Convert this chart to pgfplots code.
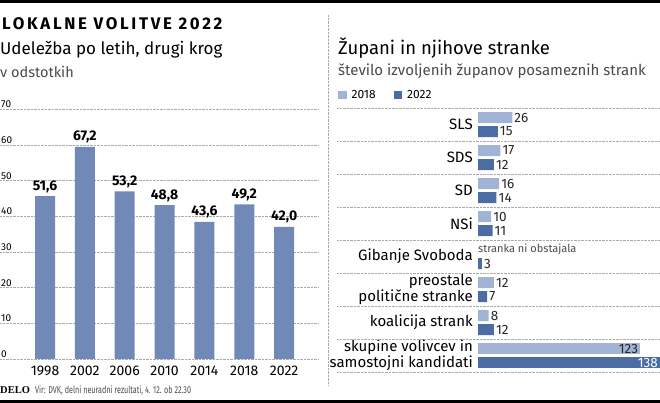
\documentclass[border=0pt]{standalone}
\usepackage{fontspec}
\setmainfont{Fira Sans}
\newfontfamily\titlefont[LetterSpace=16]{Fira Sans}
\newfontfamily\delofont{Liberation Serif}
\usepackage{pgfplots}
\usepackage{pgfplotstable}
\pgfplotsset{compat=1.18}

\definecolor{barblue}{HTML}{7089B6}
\definecolor{lightblue}{HTML}{A2B4D6}
\definecolor{darkblue}{HTML}{4B6DA4}
\definecolor{gridgray}{HTML}{AAAAAA}
\definecolor{txtgray}{HTML}{4A4A4A}
\newcommand{\fs}[1]{\fontsize{#1}{#1}\selectfont}

% bar heights as drawn in the source graphic, lab = printed value
\pgfplotstableread{
i h lab
0 45.6 51.6
1 59.4 67.2
2 46.9 53.2
3 43.1 48.8
4 38.4 43.6
5 43.3 49.2
6 37.0 42.0
}\turnout

\pgfplotstableread{
i y18 y22
0 26 15
1 17 12
2 16 14
3 10 11
4 nan 3
5 12 7
6 8 12
}\mayors

\begin{document}
\begin{tikzpicture}
\path[use as bounding box] (0pt,0pt) rectangle (660pt,403pt);
\fill[black] (0pt,399.5pt) rectangle (660pt,403pt);
\fill[black] (0pt,0pt) rectangle (660pt,3pt);
\draw[gridgray, densely dotted] (328pt,18pt) -- (328pt,388pt);

\node[anchor=base west, inner sep=0pt, font=\titlefont\bfseries\fs{16.8}] at (2pt,373.7pt) {LOKALNE VOLITVE 2022};
\node[anchor=base west, inner sep=0pt, font=\fs{17}] at (0pt,348pt) {Udeležba po letih, drugi krog};
\node[anchor=base west, inner sep=0pt, font=\fs{14.5}, text=txtgray] at (0pt,325.7pt) {v odstotkih};
\node[anchor=base west, inner sep=0pt, font=\fs{18.5}] at (338pt,348.7pt) {Župani in njihove stranke};
\node[anchor=base west, inner sep=0pt, font=\fs{15}, text=txtgray] at (338pt,327pt) {število izvoljenih županov posameznih strank};
\node[anchor=base west, inner sep=0pt, font=\delofont\bfseries\fs{10.5}] at (0pt,9pt) {DELO};
\node[anchor=base west, inner sep=0pt, font=\fs{10}, text=txtgray] at (35pt,9pt) {\scalebox{0.72}[1]{Vir: DVK, delni neuradni rezultati, 4. 12. ob 22.30}};

\begin{axis}[
    at={(0pt,44pt)}, anchor=south west,
    scale only axis, width=318pt, height=250pt,
    xmin=-1.13, xmax=6.85, ymin=0, ymax=70,
    ybar, bar width=20pt,
    xtick={0,...,6},
    xticklabels={1998,2002,2006,2010,2014,2018,2022},
    ytick={0,10,...,70},
    axis line style={draw=none},
    major tick length=0pt,
    ymajorgrids=true,
    grid style={gridgray, densely dotted},
    /pgf/number format/assume math mode=true,
    yticklabel style={anchor=south west, inner sep=1pt, font=\fs{10}},
    xticklabel style={font=\fs{14}, anchor=base, yshift=-17pt, inner sep=0pt},
    nodes near coords,
    every node near coord/.append style={font=\bfseries\fs{14}, anchor=base, yshift=6pt, inner sep=0pt,
        /pgf/number format/.cd, fixed, fixed zerofill, precision=1, use comma},
]
\addplot[fill=barblue, draw=none, point meta=explicit] table[x=i, y=h, meta=lab] {\turnout};
\end{axis}

\begin{axis}[
    at={(337pt,31pt)}, anchor=south west,
    scale only axis, width=323pt, height=264pt,
    xmin=-106.9, xmax=138, ymin=-0.5, ymax=7.5,
    y dir=reverse,
    xbar, bar width=11pt,
    xtick=\empty,
    ytick={0,...,7},
    yticklabels={SLS, SDS, SD, NSi, Gibanje Svoboda, {preostale\\politične stranke}, koalicija strank, {skupine volivcev in\\samostojni kandidati}},
    yticklabel style={align=right, font=\fontsize{15}{16}\selectfont, anchor=east, inner sep=0pt, xshift=136pt},
    extra y ticks={-0.5,0.5,...,7.5},
    extra y tick labels={},
    extra y tick style={ymajorgrids=true},
    grid style={gridgray, densely dotted},
    axis line style={draw=none},
    major tick length=0pt,
    /pgf/number format/assume math mode=true,
    nodes near coords,
    every node near coord/.append style={font=\fs{13.5}, inner sep=2pt, text=black!85},
    legend style={at={(0.003,1.049)}, anchor=west, legend columns=2, draw=none, fill=none,
        inner sep=0pt, font=\fs{12}, /tikz/every even column/.append style={column sep=16pt}},
    legend image code/.code={\fill[#1] (0pt,-4.2pt) rectangle (8.4pt,4.2pt);},
    legend cell align=left,
]
\addplot[fill=lightblue, draw=none, bar shift=7pt] table[x=y18, y=i] {\mayors};
\addlegendentry{\hspace{3pt}2018}
\addplot[fill=darkblue, draw=none, bar shift=-7pt] table[x=y22, y=i] {\mayors};
\addlegendentry{\hspace{3pt}2022}
\addplot[fill=lightblue, draw=none, bar shift=7pt, forget plot,
    every node near coord/.append style={anchor=east, text=black!85}] coordinates {(123,7)};
\addplot[fill=darkblue, draw=none, bar shift=-7pt, forget plot,
    every node near coord/.append style={anchor=east, text=white}] coordinates {(138,7)};
\node[anchor=west, inner sep=0pt, font=\fs{11}, text=txtgray] at (axis cs:0,4) [yshift=7pt] {stranka ni obstajala};
\end{axis}
\end{tikzpicture}
\end{document}
